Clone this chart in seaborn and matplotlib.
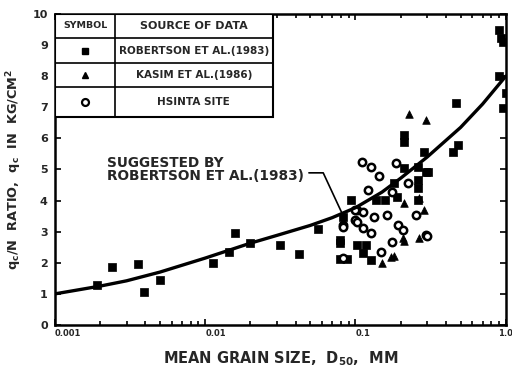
import numpy as np
import matplotlib
matplotlib.use("Agg")
import matplotlib.pyplot as plt
import seaborn as sns
from matplotlib.patches import Rectangle
from matplotlib.ticker import LogLocator, NullFormatter, FixedLocator

# curve suggested by Robertson et al. (1983)
curve_d50 = [0.001, 0.002, 0.003, 0.005, 0.01, 0.02, 0.03, 0.05, 0.07, 0.1, 0.15,
             0.2, 0.3, 0.5, 0.7, 1.0]
curve_ratio = [1.0, 1.25, 1.42, 1.7, 2.15, 2.63, 2.88, 3.2, 3.45, 3.77, 4.27,
               4.72, 5.4, 6.35, 7.1, 8.0]

# Robertson et al. (1983) - filled squares
rob_d50 = [0.0019, 0.0024, 0.0036, 0.0039, 0.005, 0.0113, 0.0144, 0.0158, 0.02,
           0.0316, 0.042, 0.056, 0.079, 0.079, 0.082, 0.079, 0.093, 0.103, 0.117,
           0.113, 0.088, 0.126, 0.136, 0.158, 0.18, 0.21, 0.188, 0.21, 0.21,
           0.259, 0.259, 0.259, 0.284, 0.293, 0.259, 0.302, 0.443, 0.479, 0.464,
           0.898, 0.926, 0.955, 0.898, 1.0, 0.955]
rob_ratio = [1.3, 1.85, 1.96, 1.06, 1.45, 2.0, 2.35, 2.96, 2.64,
             2.57, 2.28, 3.09, 2.64, 2.12, 3.47, 2.73, 4.02, 2.57, 2.57,
             2.32, 2.12, 2.09, 4.02, 4.02, 4.57, 5.05, 4.12, 6.11, 5.88,
             4.66, 4.41, 4.02, 5.56, 4.92, 5.08, 4.92, 5.56, 5.79, 7.14,
             9.49, 9.23, 9.1, 8.0, 7.46, 6.98]

# Kasim et al. (1986) - filled triangles
kasim_d50 = [0.226, 0.293, 0.21, 0.263, 0.284, 0.149, 0.18, 0.21, 0.263, 0.206, 0.171]
kasim_ratio = [6.78, 6.59, 3.92, 4.08, 3.7, 1.99, 2.22, 2.7, 2.8, 2.8, 2.19]

# Hsinta site - open circles
hsinta_d50 = [0.111, 0.126, 0.144, 0.122, 0.103, 0.185, 0.222, 0.251, 0.132, 0.163,
              0.082, 0.083, 0.1, 0.103, 0.113, 0.126, 0.176, 0.191, 0.206, 0.293,
              0.147, 0.083, 0.298, 0.176, 0.113, 0.1]
hsinta_ratio = [5.24, 5.08, 4.79, 4.34, 3.7, 5.21, 4.57, 3.54, 3.47, 3.54,
                3.22, 3.15, 3.38, 3.31, 3.12, 2.96, 2.67, 3.22, 3.05, 2.89,
                2.35, 2.15, 2.86, 4.28, 3.63, 3.7]

xtick_vals = [0.001, 0.01, 0.1, 1.0]
xtick_labels = ["0.001", "0.01", "0.1", "1.0"]
legend_rows = ["ROBERTSON ET AL.(1983)", "KASIM ET AL.(1986)", "HSINTA SITE"]

sns.set_style("ticks")
plt.rcParams['font.family'] = ['DejaVu Sans']
plt.rcParams['font.weight'] = 'bold'
plt.rcParams['mathtext.fontset'] = 'dejavusans'
plt.rcParams['mathtext.default'] = 'bf'

fig = plt.figure(figsize=(5.12, 3.74), dpi=100)
ax = fig.add_axes([0.107, 0.131, 0.881, 0.832])

sns.lineplot(x=curve_d50, y=curve_ratio, ax=ax, color="black", linewidth=2.4, sort=False)
sns.scatterplot(x=rob_d50, y=rob_ratio, ax=ax, marker="s", s=34, color="black",
                edgecolor="black", linewidth=0.5)
sns.scatterplot(x=kasim_d50, y=kasim_ratio, ax=ax, marker="^", s=30, color="black",
                edgecolor="black", linewidth=0.5)
sns.scatterplot(x=hsinta_d50, y=hsinta_ratio, ax=ax, marker="o", s=28, facecolor="white",
                edgecolor="black", linewidth=1.8)

ax.set_xscale("log")
ax.set_xlim(0.001, 1.0)
ax.set_ylim(0, 10)
ax.xaxis.set_major_locator(FixedLocator(xtick_vals))
ax.set_xticklabels(xtick_labels, fontsize=6, fontweight="bold")
for lab, ha in zip(ax.get_xticklabels(), ["left", "left", "left", "center"]):
    lab.set_horizontalalignment(ha)
ax.xaxis.set_minor_locator(LogLocator(base=10, subs=np.arange(2, 10)))
ax.xaxis.set_minor_formatter(NullFormatter())
ax.set_yticks(range(0, 11))
ax.set_yticklabels([str(i) for i in range(0, 11)], fontsize=8, fontweight="bold")
ax.tick_params(axis="both", which="both", direction="in", top=True, right=True,
               width=1.2, color="black")
ax.tick_params(axis="both", which="major", length=4)
ax.tick_params(axis="x", which="major", pad=3)
ax.tick_params(axis="y", which="major", pad=5)
ax.tick_params(axis="x", which="minor", length=3)
for sp in ax.spines.values():
    sp.set_visible(True)
    sp.set_linewidth(1.8)
    sp.set_color("black")

ax.set_xlabel("MEAN GRAIN SIZE,  D$_{50}$,  MM", fontsize=10.5, fontweight="bold", labelpad=8)
ax.set_ylabel("q$_c$/N  RATIO,  q$_c$  IN  KG/CM$^2$", fontsize=9.3, fontweight="bold",
              labelpad=6)

# legend table in the upper left
tr = ax.transAxes
ax.add_patch(Rectangle((0, 0.669), 0.483, 0.331, transform=tr, facecolor="white",
                       edgecolor="black", linewidth=1.5, zorder=5))
for yy in [0.923, 0.842, 0.765]:
    ax.plot([0, 0.483], [yy, yy], transform=tr, color="black", linewidth=1.2, zorder=6)
ax.plot([0.133, 0.133], [0.669, 1.0], transform=tr, color="black", linewidth=1.2, zorder=6)
ax.text(0.067, 0.961, "SYMBOL", transform=tr, ha="center", va="center", fontsize=6.8,
        fontweight="bold", zorder=7)
ax.text(0.308, 0.961, "SOURCE OF DATA", transform=tr, ha="center", va="center",
        fontsize=8, fontweight="bold", zorder=7)
row_y = [0.881, 0.804, 0.717]
for lbl, yy in zip(legend_rows, row_y):
    ax.text(0.308, yy, lbl, transform=tr, ha="center", va="center", fontsize=7.5,
            fontweight="bold", zorder=7)
ax.plot(0.067, row_y[0], marker="s", markersize=5, color="black", transform=tr, zorder=7)
ax.plot(0.067, row_y[1], marker="^", markersize=5, color="black", transform=tr, zorder=7)
ax.plot(0.067, row_y[2], marker="o", markersize=5, markerfacecolor="white",
        markeredgecolor="black", markeredgewidth=1.6, transform=tr, zorder=7)

# annotation of the curve
ax.text(0.00224, 5.0, "SUGGESTED BY\nROBERTSON ET AL.(1983)", fontsize=9.8,
        fontweight="bold", ha="left", va="center", linespacing=0.9)
ax.plot([0.049, 0.061, 0.083], [4.89, 4.89, 3.5], color="black", linewidth=1.2)

fig.savefig("out.png", dpi=100)
